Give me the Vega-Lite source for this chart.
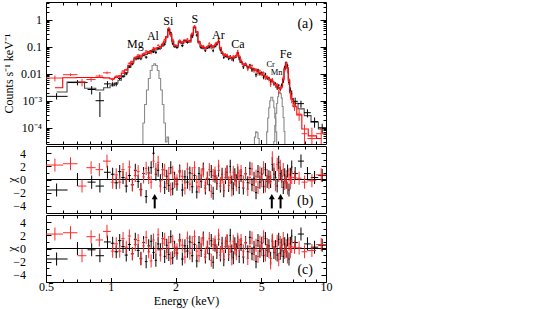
{
"$schema": "https://vega.github.io/schema/vega-lite/v6.json",
"padding": {"left": 1, "top": 1, "right": 5, "bottom": 1},
"spacing": 0,
"config": {
 "font": "Liberation Serif",
 "view": {"stroke": "black", "strokeWidth": 1},
 "axis": {"domain": false, "grid": false, "tickColor": "black", "tickWidth": 1, "labelColor": "black", "titleColor": "black", "labelFont": "Liberation Serif", "titleFont": "Liberation Serif", "labelFontSize": 12, "titleFontSize": 12, "titleFontWeight": "normal", "labelFlush": false, "labelOverlap": false},
 "text": {"font": "Liberation Serif", "color": "black"}
},
"datasets": {
 "spec": [
{"s":"k","e0":0.5,"e1":0.63,"e":0.56,"y":0.00145,"lo":0.0011,"hi":0.0019,"m":0.0021,"rb":-1.6,"rc":-1.6},
{"s":"k","e0":0.63,"e1":0.78,"e":0.7,"y":0.0047,"lo":0.0037,"hi":0.0058,"m":0.0049,"rb":0,"rc":0},
{"s":"k","e0":0.78,"e1":0.85,"e":0.815,"y":0.0026,"lo":0.0017,"hi":0.0035,"m":0.0029,"rb":-0.4,"rc":-0.2},
{"s":"k","e0":0.85,"e1":0.93,"e":0.89,"y":0.001,"lo":0.00025,"hi":0.0021,"m":0.0025,"rb":-1,"rc":-1.1},
{"s":"k","e0":0.93,"e1":1,"e":0.965,"y":0.0042,"lo":0.0031,"hi":0.0053,"m":0.003,"rb":1.1,"rc":1},
{"s":"k","e0":1,"e1":1.04,"e":1.02,"y":0.00412,"lo":0.00338,"hi":0.00486,"m":0.0036,"rb":0.8,"rc":0.8},
{"s":"k","e0":1.04,"e1":1.08,"e":1.06,"y":0.00414,"lo":0.00342,"hi":0.00486,"m":0.0045,"rb":-0.5,"rc":-0.5},
{"s":"k","e0":1.08,"e1":1.12,"e":1.1,"y":0.00666,"lo":0.00586,"hi":0.00746,"m":0.0057,"rb":1.2,"rc":1.2},
{"s":"k","e0":1.12,"e1":1.16,"e":1.14,"y":0.00808,"lo":0.00714,"hi":0.00902,"m":0.0078,"rb":0.3,"rc":0.3},
{"s":"k","e0":1.16,"e1":1.2,"e":1.18,"y":0.0099,"lo":0.0088,"hi":0.011,"m":0.011,"rb":-1,"rc":-1},
{"s":"k","e0":1.2,"e1":1.24,"e":1.22,"y":0.018,"lo":0.0163,"hi":0.0197,"m":0.017,"rb":0.6,"rc":0.6},
{"s":"k","e0":1.24,"e1":1.28,"e":1.26,"y":0.023,"lo":0.0205,"hi":0.0255,"m":0.025,"rb":-0.8,"rc":-0.8},
{"s":"k","e0":1.28,"e1":1.32,"e":1.3,"y":0.0376,"lo":0.0343,"hi":0.0409,"m":0.033,"rb":1.4,"rc":1.4},
{"s":"k","e0":1.32,"e1":1.36,"e":1.34,"y":0.0369,"lo":0.0331,"hi":0.0407,"m":0.038,"rb":-0.3,"rc":-0.3},
{"s":"k","e0":1.36,"e1":1.4,"e":1.38,"y":0.0357,"lo":0.0315,"hi":0.0399,"m":0.042,"rb":-1.5,"rc":-1.5},
{"s":"k","e0":1.4,"e1":1.44,"e":1.42,"y":0.0501,"lo":0.0455,"hi":0.0547,"m":0.046,"rb":0.9,"rc":0.9},
{"s":"k","e0":1.44,"e1":1.48,"e":1.46,"y":0.0408,"lo":0.0357,"hi":0.0459,"m":0.051,"rb":-2.6,"rc":-2},
{"s":"k","e0":1.48,"e1":1.52,"e":1.5,"y":0.0593,"lo":0.0536,"hi":0.065,"m":0.057,"rb":1,"rc":0.4},
{"s":"k","e0":1.52,"e1":1.56,"e":1.54,"y":0.0699,"lo":0.0636,"hi":0.0762,"m":0.063,"rb":1.8,"rc":1.1},
{"s":"k","e0":1.56,"e1":1.6,"e":1.58,"y":0.0649,"lo":0.058,"hi":0.0718,"m":0.069,"rb":4,"rc":-0.6},
{"s":"k","e0":1.6,"e1":1.64,"e":1.62,"y":0.0615,"lo":0.054,"hi":0.069,"m":0.075,"rb":0.8,"rc":-1.8},
{"s":"k","e0":1.64,"e1":1.68,"e":1.66,"y":0.0867,"lo":0.0786,"hi":0.0948,"m":0.081,"rb":1.4,"rc":0.7},
{"s":"k","e0":1.68,"e1":1.72,"e":1.7,"y":0.0872,"lo":0.0783,"hi":0.0961,"m":0.089,"rb":-0.2,"rc":-0.2},
{"s":"k","e0":1.72,"e1":1.76,"e":1.74,"y":0.121,"lo":0.11,"hi":0.131,"m":0.105,"rb":1.5,"rc":1.5},
{"s":"k","e0":1.76,"e1":1.8,"e":1.78,"y":0.123,"lo":0.109,"hi":0.137,"m":0.14,"rb":-1.2,"rc":-1.2},
{"s":"k","e0":1.8,"e1":1.84,"e":1.82,"y":0.231,"lo":0.209,"hi":0.253,"m":0.22,"rb":0.5,"rc":0.5},
{"s":"k","e0":1.84,"e1":1.88,"e":1.86,"y":0.41,"lo":0.365,"hi":0.455,"m":0.45,"rb":-0.9,"rc":-0.9},
{"s":"k","e0":1.88,"e1":1.92,"e":1.9,"y":0.33,"lo":0.302,"hi":0.358,"m":0.28,"rb":1.8,"rc":1.8},
{"s":"k","e0":1.92,"e1":1.96,"e":1.94,"y":0.129,"lo":0.114,"hi":0.144,"m":0.15,"rb":-1.4,"rc":-1.4},
{"s":"k","e0":1.96,"e1":2,"e":1.98,"y":0.102,"lo":0.092,"hi":0.112,"m":0.1,"rb":0.2,"rc":0.2},
{"s":"k","e0":2,"e1":2.06,"e":2.03,"y":0.093,"lo":0.083,"hi":0.103,"m":0.1,"rb":-0.7,"rc":-0.7},
{"s":"k","e0":2.06,"e1":2.12,"e":2.09,"y":0.158,"lo":0.144,"hi":0.172,"m":0.14,"rb":1.3,"rc":1.3},
{"s":"k","e0":2.12,"e1":2.18,"e":2.15,"y":0.109,"lo":0.096,"hi":0.122,"m":0.13,"rb":-1.6,"rc":-1.6},
{"s":"k","e0":2.18,"e1":2.24,"e":2.21,"y":0.166,"lo":0.15,"hi":0.182,"m":0.16,"rb":0.4,"rc":0.4},
{"s":"k","e0":2.24,"e1":2.3,"e":2.27,"y":0.144,"lo":0.129,"hi":0.159,"m":0.15,"rb":-0.4,"rc":-0.4},
{"s":"k","e0":2.3,"e1":2.36,"e":2.33,"y":0.165,"lo":0.15,"hi":0.18,"m":0.15,"rb":1,"rc":1},
{"s":"k","e0":2.36,"e1":2.42,"e":2.39,"y":0.231,"lo":0.205,"hi":0.257,"m":0.26,"rb":-1.1,"rc":-1.1},
{"s":"k","e0":2.42,"e1":2.48,"e":2.45,"y":0.53,"lo":0.48,"hi":0.58,"m":0.5,"rb":0.6,"rc":0.6},
{"s":"k","e0":2.48,"e1":2.54,"e":2.51,"y":0.267,"lo":0.234,"hi":0.3,"m":0.33,"rb":-1.9,"rc":-1.9},
{"s":"k","e0":2.54,"e1":2.6,"e":2.57,"y":0.153,"lo":0.139,"hi":0.167,"m":0.14,"rb":0.9,"rc":0.9},
{"s":"k","e0":2.6,"e1":2.66,"e":2.63,"y":0.092,"lo":0.0825,"hi":0.1015,"m":0.095,"rb":-0.3,"rc":-0.3},
{"s":"k","e0":2.66,"e1":2.72,"e":2.69,"y":0.0986,"lo":0.0901,"hi":0.1071,"m":0.085,"rb":1.6,"rc":1.6},
{"s":"k","e0":2.72,"e1":2.78,"e":2.75,"y":0.0713,"lo":0.0631,"hi":0.0795,"m":0.082,"rb":-1.3,"rc":-1.3},
{"s":"k","e0":2.78,"e1":2.84,"e":2.81,"y":0.0918,"lo":0.0828,"hi":0.1008,"m":0.09,"rb":0.2,"rc":0.2},
{"s":"k","e0":2.84,"e1":2.9,"e":2.87,"y":0.0966,"lo":0.0861,"hi":0.1071,"m":0.105,"rb":-0.8,"rc":-0.8},
{"s":"k","e0":2.9,"e1":2.96,"e":2.93,"y":0.112,"lo":0.102,"hi":0.122,"m":0.1,"rb":1.2,"rc":1.2},
{"s":"k","e0":2.96,"e1":3.02,"e":2.99,"y":0.0711,"lo":0.0621,"hi":0.0801,"m":0.09,"rb":-2.1,"rc":-2.1},
{"s":"k","e0":3.02,"e1":3.08,"e":3.05,"y":0.105,"lo":0.095,"hi":0.115,"m":0.1,"rb":0.5,"rc":0.5},
{"s":"k","e0":3.08,"e1":3.14,"e":3.11,"y":0.122,"lo":0.109,"hi":0.135,"m":0.13,"rb":-0.6,"rc":-0.6},
{"s":"k","e0":3.14,"e1":3.2,"e":3.17,"y":0.16,"lo":0.146,"hi":0.174,"m":0.14,"rb":1.4,"rc":1.4},
{"s":"k","e0":3.2,"e1":3.26,"e":3.23,"y":0.0765,"lo":0.068,"hi":0.085,"m":0.085,"rb":-1,"rc":-1},
{"s":"k","e0":3.26,"e1":3.32,"e":3.29,"y":0.0605,"lo":0.0549,"hi":0.0661,"m":0.056,"rb":0.8,"rc":0.8},
{"s":"k","e0":3.32,"e1":3.38,"e":3.35,"y":0.0398,"lo":0.035,"hi":0.0446,"m":0.048,"rb":-1.7,"rc":-1.7},
{"s":"k","e0":3.38,"e1":3.44,"e":3.41,"y":0.0453,"lo":0.0409,"hi":0.0497,"m":0.044,"rb":0.3,"rc":0.3},
{"s":"k","e0":3.44,"e1":3.5,"e":3.47,"y":0.0455,"lo":0.0414,"hi":0.0496,"m":0.041,"rb":1.1,"rc":1.1},
{"s":"k","e0":3.5,"e1":3.56,"e":3.53,"y":0.0355,"lo":0.0316,"hi":0.0394,"m":0.039,"rb":-0.9,"rc":-0.9},
{"s":"k","e0":3.56,"e1":3.62,"e":3.59,"y":0.0444,"lo":0.0407,"hi":0.0481,"m":0.037,"rb":2,"rc":2},
{"s":"k","e0":3.62,"e1":3.68,"e":3.65,"y":0.0346,"lo":0.031,"hi":0.0382,"m":0.036,"rb":-0.4,"rc":-0.4},
{"s":"k","e0":3.68,"e1":3.74,"e":3.71,"y":0.0318,"lo":0.0281,"hi":0.0355,"m":0.037,"rb":-1.4,"rc":-1.4},
{"s":"k","e0":3.74,"e1":3.8,"e":3.77,"y":0.0417,"lo":0.0378,"hi":0.0456,"m":0.039,"rb":0.7,"rc":0.7},
{"s":"k","e0":3.8,"e1":3.86,"e":3.83,"y":0.0431,"lo":0.0387,"hi":0.0475,"m":0.044,"rb":-0.2,"rc":-0.2},
{"s":"k","e0":3.86,"e1":3.92,"e":3.89,"y":0.0605,"lo":0.055,"hi":0.066,"m":0.055,"rb":1,"rc":1},
{"s":"k","e0":3.92,"e1":3.98,"e":3.95,"y":0.0352,"lo":0.0312,"hi":0.0392,"m":0.04,"rb":-1.2,"rc":-1.2},
{"s":"k","e0":3.98,"e1":4.08,"e":4.03,"y":0.0282,"lo":0.0245,"hi":0.0318,"m":0.026,"rb":0.6,"rc":0.6},
{"s":"k","e0":4.08,"e1":4.18,"e":4.13,"y":0.018,"lo":0.0149,"hi":0.0211,"m":0.022,"rb":-1.3,"rc":-1.3},
{"s":"k","e0":4.18,"e1":4.28,"e":4.23,"y":0.0225,"lo":0.0197,"hi":0.0253,"m":0.02,"rb":0.9,"rc":0.9},
{"s":"k","e0":4.28,"e1":4.38,"e":4.33,"y":0.0167,"lo":0.0142,"hi":0.0192,"m":0.018,"rb":-0.5,"rc":-0.5},
{"s":"k","e0":4.38,"e1":4.48,"e":4.43,"y":0.0208,"lo":0.0184,"hi":0.0232,"m":0.0168,"rb":1.7,"rc":1.7},
{"s":"k","e0":4.48,"e1":4.58,"e":4.53,"y":0.0138,"lo":0.0116,"hi":0.016,"m":0.0155,"rb":-0.8,"rc":-0.8},
{"s":"k","e0":4.58,"e1":4.68,"e":4.63,"y":0.0144,"lo":0.0124,"hi":0.0164,"m":0.014,"rb":0.2,"rc":0.2},
{"s":"k","e0":4.68,"e1":4.78,"e":4.73,"y":0.0092,"lo":0.0074,"hi":0.011,"m":0.0128,"rb":-2,"rc":-2},
{"s":"k","e0":4.78,"e1":4.88,"e":4.83,"y":0.0137,"lo":0.0121,"hi":0.0153,"m":0.0117,"rb":1.2,"rc":1.2},
{"s":"k","e0":4.88,"e1":4.98,"e":4.93,"y":0.01,"lo":0.0085,"hi":0.0115,"m":0.0106,"rb":-0.4,"rc":-0.4},
{"s":"k","e0":4.98,"e1":5.08,"e":5.03,"y":0.0108,"lo":0.0094,"hi":0.0122,"m":0.0097,"rb":0.8,"rc":0.8},
{"s":"k","e0":5.08,"e1":5.18,"e":5.13,"y":0.0074,"lo":0.0062,"hi":0.0086,"m":0.0088,"rb":-1.1,"rc":-1.1},
{"s":"k","e0":5.18,"e1":5.28,"e":5.23,"y":0.0097,"lo":0.0086,"hi":0.0108,"m":0.008,"rb":1.5,"rc":1.5},
{"s":"k","e0":5.28,"e1":5.38,"e":5.33,"y":0.0069,"lo":0.0059,"hi":0.0079,"m":0.0072,"rb":-0.3,"rc":-0.3},
{"s":"k","e0":5.38,"e1":5.48,"e":5.43,"y":0.0069,"lo":0.006,"hi":0.0078,"m":0.0065,"rb":0.4,"rc":0.4},
{"s":"k","e0":5.48,"e1":5.58,"e":5.53,"y":0.0046,"lo":0.0038,"hi":0.0054,"m":0.0058,"rb":-0.3,"rc":-1.5},
{"s":"k","e0":5.58,"e1":5.68,"e":5.63,"y":0.006,"lo":0.0053,"hi":0.0067,"m":0.0052,"rb":2.3,"rc":1.1},
{"s":"k","e0":5.68,"e1":5.78,"e":5.73,"y":0.0042,"lo":0.0036,"hi":0.0048,"m":0.0046,"rb":0.8,"rc":-0.6},
{"s":"k","e0":5.78,"e1":5.88,"e":5.83,"y":0.0042,"lo":0.0036,"hi":0.0048,"m":0.004,"rb":0.3,"rc":0.3},
{"s":"k","e0":5.88,"e1":5.98,"e":5.93,"y":0.003,"lo":0.0025,"hi":0.0035,"m":0.0035,"rb":-1,"rc":-1},
{"s":"k","e0":5.98,"e1":6.08,"e":6.03,"y":0.0037,"lo":0.0033,"hi":0.0041,"m":0.0031,"rb":2.6,"rc":1.4},
{"s":"k","e0":6.08,"e1":6.18,"e":6.13,"y":0.0027,"lo":0.0023,"hi":0.0031,"m":0.003,"rb":0.9,"rc":-0.7},
{"s":"k","e0":6.18,"e1":6.28,"e":6.23,"y":0.0039,"lo":0.0034,"hi":0.0044,"m":0.0036,"rb":0.5,"rc":0.5},
{"s":"k","e0":6.28,"e1":6.38,"e":6.33,"y":0.0054,"lo":0.0045,"hi":0.0063,"m":0.0065,"rb":-1.2,"rc":-1.2},
{"s":"k","e0":6.38,"e1":6.48,"e":6.43,"y":0.0176,"lo":0.0154,"hi":0.0198,"m":0.016,"rb":0.7,"rc":0.7},
{"s":"k","e0":6.48,"e1":6.58,"e":6.53,"y":0.0245,"lo":0.0209,"hi":0.0281,"m":0.026,"rb":-0.4,"rc":-0.4},
{"s":"k","e0":6.58,"e1":6.68,"e":6.63,"y":0.0201,"lo":0.0177,"hi":0.0225,"m":0.017,"rb":1.3,"rc":1.3},
{"s":"k","e0":6.68,"e1":6.78,"e":6.73,"y":0.0047,"lo":0.0039,"hi":0.0055,"m":0.006,"rb":-1.6,"rc":-1.6},
{"s":"k","e0":6.78,"e1":6.88,"e":6.83,"y":0.0025,"lo":0.0019,"hi":0.0031,"m":0.0022,"rb":0.8,"rc":0.8},
{"s":"k","e0":6.88,"e1":6.98,"e":6.93,"y":0.0018,"lo":0.0012,"hi":0.0024,"m":0.0012,"rb":1.9,"rc":1.9},
{"s":"k","e0":6.98,"e1":7.4,"e":7.19,"y":0.00095,"lo":0.0006,"hi":0.0013,"m":0.0008,"rb":0.9,"rc":0.9},
{"s":"k","e0":7.4,"e1":7.9,"e":7.65,"y":0.00078,"lo":0.00055,"hi":0.001,"m":0.0005,"rb":2.8,"rc":2.2},
{"s":"k","e0":7.9,"e1":8.5,"e":8.2,"y":0.00036,"lo":0.00024,"hi":0.00048,"m":0.00028,"rb":0.9,"rc":0.7},
{"s":"k","e0":8.5,"e1":9.2,"e":8.85,"y":0.00017,"lo":0.0001,"hi":0.00024,"m":0.00016,"rb":0.3,"rc":0.2},
{"s":"k","e0":9.2,"e1":10,"e":9.6,"y":0.0001,"lo":0.00006,"hi":0.00014,"m":0.00009,"rb":0.6,"rc":0.5},
{"s":"r","e0":0.5,"e1":0.6,"e":0.55,"y":0.0069,"lo":0.0052,"hi":0.0086,"m":0.003,"rb":2.2,"rc":2.2},
{"s":"r","e0":0.6,"e1":0.7,"e":0.65,"y":0.0092,"lo":0.0082,"hi":0.0102,"m":0.0071,"rb":2.4,"rc":2.4},
{"s":"r","e0":0.7,"e1":0.77,"e":0.735,"y":0.0049,"lo":0.0034,"hi":0.0064,"m":0.0072,"rb":-1,"rc":-1.1},
{"s":"r","e0":0.77,"e1":0.85,"e":0.81,"y":0.0061,"lo":0.005,"hi":0.0072,"m":0.0072,"rb":1.8,"rc":1.8},
{"s":"r","e0":0.85,"e1":0.92,"e":0.885,"y":0.0082,"lo":0.0071,"hi":0.0093,"m":0.0072,"rb":1.5,"rc":1.3},
{"s":"r","e0":0.92,"e1":1,"e":0.96,"y":0.0108,"lo":0.0095,"hi":0.0121,"m":0.007,"rb":2.8,"rc":2.6},
{"s":"r","e0":1,"e1":1.04,"e":1.02,"y":0.0061,"lo":0.0052,"hi":0.007,"m":0.0065,"rb":-0.4,"rc":-0.4},
{"s":"r","e0":1.04,"e1":1.08,"e":1.06,"y":0.0079,"lo":0.0068,"hi":0.009,"m":0.0072,"rb":0.7,"rc":0.7},
{"s":"r","e0":1.08,"e1":1.12,"e":1.1,"y":0.0078,"lo":0.0068,"hi":0.0088,"m":0.0083,"rb":-0.4,"rc":-0.4},
{"s":"r","e0":1.12,"e1":1.16,"e":1.14,"y":0.0124,"lo":0.0111,"hi":0.0137,"m":0.0105,"rb":1.5,"rc":1.5},
{"s":"r","e0":1.16,"e1":1.2,"e":1.18,"y":0.0141,"lo":0.0127,"hi":0.0155,"m":0.0138,"rb":0.2,"rc":0.2},
{"s":"r","e0":1.2,"e1":1.24,"e":1.22,"y":0.0243,"lo":0.0223,"hi":0.0263,"m":0.0204,"rb":1.9,"rc":1.9},
{"s":"r","e0":1.24,"e1":1.28,"e":1.26,"y":0.0265,"lo":0.0236,"hi":0.0294,"m":0.0288,"rb":-0.8,"rc":-0.8},
{"s":"r","e0":1.28,"e1":1.32,"e":1.3,"y":0.0403,"lo":0.0365,"hi":0.0441,"m":0.038,"rb":0.6,"rc":0.6},
{"s":"r","e0":1.32,"e1":1.36,"e":1.34,"y":0.049,"lo":0.0446,"hi":0.0534,"m":0.0437,"rb":1.2,"rc":1.2},
{"s":"r","e0":1.36,"e1":1.4,"e":1.38,"y":0.0406,"lo":0.0358,"hi":0.0454,"m":0.0483,"rb":-1.6,"rc":-1.6},
{"s":"r","e0":1.4,"e1":1.44,"e":1.42,"y":0.055,"lo":0.0497,"hi":0.0603,"m":0.0529,"rb":0.4,"rc":0.4},
{"s":"r","e0":1.44,"e1":1.48,"e":1.46,"y":0.0687,"lo":0.0628,"hi":0.0746,"m":0.0587,"rb":1.7,"rc":1.7},
{"s":"r","e0":1.48,"e1":1.52,"e":1.5,"y":0.0623,"lo":0.0557,"hi":0.0689,"m":0.0656,"rb":0.3,"rc":-0.5},
{"s":"r","e0":1.52,"e1":1.56,"e":1.54,"y":0.0587,"lo":0.0515,"hi":0.066,"m":0.0725,"rb":-0.4,"rc":-1.9},
{"s":"r","e0":1.56,"e1":1.6,"e":1.58,"y":0.0897,"lo":0.0818,"hi":0.0976,"m":0.0794,"rb":2.8,"rc":1.3},
{"s":"r","e0":1.6,"e1":1.64,"e":1.62,"y":0.0863,"lo":0.0777,"hi":0.0949,"m":0.0863,"rb":1.5,"rc":0},
{"s":"r","e0":1.64,"e1":1.68,"e":1.66,"y":0.1128,"lo":0.1035,"hi":0.1221,"m":0.0932,"rb":2.6,"rc":2.1},
{"s":"r","e0":1.68,"e1":1.72,"e":1.7,"y":0.0922,"lo":0.082,"hi":0.1024,"m":0.1024,"rb":-1,"rc":-1},
{"s":"r","e0":1.72,"e1":1.76,"e":1.74,"y":0.131,"lo":0.119,"hi":0.143,"m":0.121,"rb":0.8,"rc":0.8},
{"s":"r","e0":1.76,"e1":1.8,"e":1.78,"y":0.184,"lo":0.168,"hi":0.2,"m":0.161,"rb":1.4,"rc":1.4},
{"s":"r","e0":1.8,"e1":1.84,"e":1.82,"y":0.221,"lo":0.198,"hi":0.244,"m":0.235,"rb":-0.6,"rc":-0.6},
{"s":"r","e0":1.84,"e1":1.88,"e":1.86,"y":0.49,"lo":0.445,"hi":0.535,"m":0.45,"rb":0.9,"rc":0.9},
{"s":"r","e0":1.88,"e1":1.92,"e":1.9,"y":0.255,"lo":0.225,"hi":0.285,"m":0.3,"rb":-1.5,"rc":-1.5},
{"s":"r","e0":1.92,"e1":1.96,"e":1.94,"y":0.183,"lo":0.167,"hi":0.2,"m":0.165,"rb":1.1,"rc":1.1},
{"s":"r","e0":1.96,"e1":2,"e":1.98,"y":0.112,"lo":0.1,"hi":0.124,"m":0.115,"rb":-0.3,"rc":-0.3},
{"s":"r","e0":2,"e1":2.06,"e":2.03,"y":0.108,"lo":0.097,"hi":0.119,"m":0.11,"rb":-0.2,"rc":-0.2},
{"s":"r","e0":2.06,"e1":2.12,"e":2.09,"y":0.171,"lo":0.156,"hi":0.186,"m":0.154,"rb":1.1,"rc":1.1},
{"s":"r","e0":2.12,"e1":2.18,"e":2.15,"y":0.15,"lo":0.136,"hi":0.164,"m":0.143,"rb":0.5,"rc":0.5},
{"s":"r","e0":2.18,"e1":2.24,"e":2.21,"y":0.153,"lo":0.135,"hi":0.171,"m":0.176,"rb":-1.3,"rc":-1.3},
{"s":"r","e0":2.24,"e1":2.3,"e":2.27,"y":0.191,"lo":0.175,"hi":0.207,"m":0.165,"rb":1.6,"rc":1.6},
{"s":"r","e0":2.3,"e1":2.36,"e":2.33,"y":0.153,"lo":0.137,"hi":0.169,"m":0.165,"rb":-0.7,"rc":-0.7},
{"s":"r","e0":2.36,"e1":2.42,"e":2.39,"y":0.312,"lo":0.283,"hi":0.341,"m":0.286,"rb":0.9,"rc":0.9},
{"s":"r","e0":2.42,"e1":2.48,"e":2.45,"y":0.58,"lo":0.53,"hi":0.63,"m":0.53,"rb":1.8,"rc":1.8},
{"s":"r","e0":2.48,"e1":2.54,"e":2.51,"y":0.348,"lo":0.312,"hi":0.384,"m":0.363,"rb":-0.4,"rc":-0.4},
{"s":"r","e0":2.54,"e1":2.6,"e":2.57,"y":0.137,"lo":0.122,"hi":0.152,"m":0.154,"rb":-1.1,"rc":-1.1},
{"s":"r","e0":2.6,"e1":2.66,"e":2.63,"y":0.112,"lo":0.102,"hi":0.122,"m":0.105,"rb":0.7,"rc":0.7},
{"s":"r","e0":2.66,"e1":2.72,"e":2.69,"y":0.106,"lo":0.097,"hi":0.115,"m":0.094,"rb":1.3,"rc":1.3},
{"s":"r","e0":2.72,"e1":2.78,"e":2.75,"y":0.082,"lo":0.073,"hi":0.091,"m":0.09,"rb":-0.9,"rc":-0.9},
{"s":"r","e0":2.78,"e1":2.84,"e":2.81,"y":0.101,"lo":0.091,"hi":0.111,"m":0.099,"rb":0.2,"rc":0.2},
{"s":"r","e0":2.84,"e1":2.9,"e":2.87,"y":0.133,"lo":0.121,"hi":0.145,"m":0.116,"rb":1.5,"rc":1.5},
{"s":"r","e0":2.9,"e1":2.96,"e":2.93,"y":0.09,"lo":0.079,"hi":0.101,"m":0.11,"rb":-1.8,"rc":-1.8},
{"s":"r","e0":2.96,"e1":3.02,"e":2.99,"y":0.105,"lo":0.095,"hi":0.115,"m":0.099,"rb":0.6,"rc":0.6},
{"s":"r","e0":3.02,"e1":3.08,"e":3.05,"y":0.121,"lo":0.11,"hi":0.132,"m":0.11,"rb":1,"rc":1},
{"s":"r","e0":3.08,"e1":3.14,"e":3.11,"y":0.139,"lo":0.125,"hi":0.153,"m":0.143,"rb":-0.3,"rc":-0.3},
{"s":"r","e0":3.14,"e1":3.2,"e":3.17,"y":0.185,"lo":0.17,"hi":0.2,"m":0.154,"rb":2,"rc":2},
{"s":"r","e0":3.2,"e1":3.26,"e":3.23,"y":0.088,"lo":0.079,"hi":0.097,"m":0.094,"rb":-0.6,"rc":-0.6},
{"s":"r","e0":3.26,"e1":3.32,"e":3.29,"y":0.064,"lo":0.058,"hi":0.07,"m":0.062,"rb":0.4,"rc":0.4},
{"s":"r","e0":3.32,"e1":3.38,"e":3.35,"y":0.047,"lo":0.042,"hi":0.052,"m":0.053,"rb":-1.2,"rc":-1.2},
{"s":"r","e0":3.38,"e1":3.44,"e":3.41,"y":0.052,"lo":0.047,"hi":0.057,"m":0.048,"rb":0.8,"rc":0.8},
{"s":"r","e0":3.44,"e1":3.5,"e":3.47,"y":0.05,"lo":0.046,"hi":0.055,"m":0.045,"rb":1.2,"rc":1.2},
{"s":"r","e0":3.5,"e1":3.56,"e":3.53,"y":0.041,"lo":0.037,"hi":0.045,"m":0.043,"rb":-0.5,"rc":-0.5},
{"s":"r","e0":3.56,"e1":3.62,"e":3.59,"y":0.042,"lo":0.038,"hi":0.046,"m":0.041,"rb":0.3,"rc":0.3},
{"s":"r","e0":3.62,"e1":3.68,"e":3.65,"y":0.034,"lo":0.03,"hi":0.038,"m":0.04,"rb":-1.6,"rc":-1.6},
{"s":"r","e0":3.68,"e1":3.74,"e":3.71,"y":0.045,"lo":0.041,"hi":0.049,"m":0.041,"rb":1.1,"rc":1.1},
{"s":"r","e0":3.74,"e1":3.8,"e":3.77,"y":0.043,"lo":0.039,"hi":0.047,"m":0.043,"rb":0.1,"rc":0.1},
{"s":"r","e0":3.8,"e1":3.86,"e":3.83,"y":0.044,"lo":0.039,"hi":0.049,"m":0.048,"rb":-0.8,"rc":-0.8},
{"s":"r","e0":3.86,"e1":3.92,"e":3.89,"y":0.07,"lo":0.064,"hi":0.076,"m":0.061,"rb":1.4,"rc":1.4},
{"s":"r","e0":3.92,"e1":3.98,"e":3.95,"y":0.046,"lo":0.042,"hi":0.05,"m":0.044,"rb":0.5,"rc":0.5},
{"s":"r","e0":3.98,"e1":4.08,"e":4.03,"y":0.0319,"lo":0.0281,"hi":0.0357,"m":0.0273,"rb":1.2,"rc":1.2},
{"s":"r","e0":4.08,"e1":4.18,"e":4.13,"y":0.0218,"lo":0.0186,"hi":0.025,"m":0.0231,"rb":-0.4,"rc":-0.4},
{"s":"r","e0":4.18,"e1":4.28,"e":4.23,"y":0.0234,"lo":0.0205,"hi":0.0263,"m":0.021,"rb":0.8,"rc":0.8},
{"s":"r","e0":4.28,"e1":4.38,"e":4.33,"y":0.015,"lo":0.0124,"hi":0.0176,"m":0.0189,"rb":-1.5,"rc":-1.5},
{"s":"r","e0":4.38,"e1":4.48,"e":4.43,"y":0.0183,"lo":0.0158,"hi":0.0208,"m":0.0176,"rb":0.3,"rc":0.3},
{"s":"r","e0":4.48,"e1":4.58,"e":4.53,"y":0.0199,"lo":0.0176,"hi":0.0222,"m":0.0163,"rb":1.6,"rc":1.6},
{"s":"r","e0":4.58,"e1":4.68,"e":4.63,"y":0.0128,"lo":0.0107,"hi":0.0149,"m":0.0147,"rb":-0.9,"rc":-0.9},
{"s":"r","e0":4.68,"e1":4.78,"e":4.73,"y":0.0143,"lo":0.0124,"hi":0.0162,"m":0.0134,"rb":0.5,"rc":0.5},
{"s":"r","e0":4.78,"e1":4.88,"e":4.83,"y":0.0102,"lo":0.0085,"hi":0.0119,"m":0.0123,"rb":-1.2,"rc":-1.2},
{"s":"r","e0":4.88,"e1":4.98,"e":4.93,"y":0.0127,"lo":0.0111,"hi":0.0143,"m":0.0111,"rb":1,"rc":1},
{"s":"r","e0":4.98,"e1":5.08,"e":5.03,"y":0.0094,"lo":0.008,"hi":0.0108,"m":0.0097,"rb":-0.2,"rc":-0.2},
{"s":"r","e0":5.08,"e1":5.18,"e":5.13,"y":0.011,"lo":0.0098,"hi":0.0122,"m":0.0088,"rb":1.8,"rc":1.8},
{"s":"r","e0":5.18,"e1":5.28,"e":5.23,"y":0.0069,"lo":0.0058,"hi":0.008,"m":0.008,"rb":-1,"rc":-1},
{"s":"r","e0":5.28,"e1":5.38,"e":5.33,"y":0.0078,"lo":0.0068,"hi":0.0088,"m":0.0072,"rb":0.6,"rc":0.6},
{"s":"r","e0":5.38,"e1":5.48,"e":5.43,"y":0.006,"lo":0.0051,"hi":0.0069,"m":0.0065,"rb":-0.5,"rc":-0.5},
{"s":"r","e0":5.48,"e1":5.58,"e":5.53,"y":0.004,"lo":0.0032,"hi":0.0048,"m":0.0058,"rb":0.3,"rc":-2.2},
{"s":"r","e0":5.58,"e1":5.68,"e":5.63,"y":0.0061,"lo":0.0054,"hi":0.0068,"m":0.0052,"rb":3.3,"rc":1.3},
{"s":"r","e0":5.68,"e1":5.78,"e":5.73,"y":0.0047,"lo":0.004,"hi":0.0054,"m":0.0046,"rb":1.5,"rc":0.2},
{"s":"r","e0":5.78,"e1":5.88,"e":5.83,"y":0.0036,"lo":0.003,"hi":0.0042,"m":0.004,"rb":-0.8,"rc":-0.8},
{"s":"r","e0":5.88,"e1":5.98,"e":5.93,"y":0.004,"lo":0.0035,"hi":0.0045,"m":0.0035,"rb":2.3,"rc":1.1},
{"s":"r","e0":5.98,"e1":6.08,"e":6.03,"y":0.0021,"lo":0.0017,"hi":0.0025,"m":0.0028,"rb":0.6,"rc":-1.7},
{"s":"r","e0":6.08,"e1":6.18,"e":6.13,"y":0.003,"lo":0.0026,"hi":0.0034,"m":0.0027,"rb":2,"rc":0.9},
{"s":"r","e0":6.18,"e1":6.28,"e":6.23,"y":0.0031,"lo":0.0027,"hi":0.0035,"m":0.0032,"rb":-0.3,"rc":-0.3},
{"s":"r","e0":6.28,"e1":6.38,"e":6.33,"y":0.0071,"lo":0.0063,"hi":0.0079,"m":0.0059,"rb":1.5,"rc":1.5},
{"s":"r","e0":6.38,"e1":6.48,"e":6.43,"y":0.0132,"lo":0.0112,"hi":0.0152,"m":0.0144,"rb":-0.6,"rc":-0.6},
{"s":"r","e0":6.48,"e1":6.58,"e":6.53,"y":0.0247,"lo":0.0214,"hi":0.028,"m":0.0234,"rb":0.4,"rc":0.4},
{"s":"r","e0":6.58,"e1":6.68,"e":6.63,"y":0.0125,"lo":0.0104,"hi":0.0146,"m":0.0153,"rb":-1.3,"rc":-1.3},
{"s":"r","e0":6.68,"e1":6.78,"e":6.73,"y":0.006,"lo":0.0051,"hi":0.0069,"m":0.0054,"rb":0.7,"rc":0.7},
{"s":"r","e0":6.78,"e1":6.88,"e":6.83,"y":0.0018,"lo":0.0013,"hi":0.0023,"m":0.002,"rb":-0.5,"rc":-0.5},
{"s":"r","e0":6.88,"e1":6.98,"e":6.93,"y":0.0012,"lo":0.0008,"hi":0.0016,"m":0.0011,"rb":0.3,"rc":0.3},
{"s":"r","e0":6.98,"e1":7.3,"e":7.14,"y":0.00065,"lo":0.00042,"hi":0.00088,"m":0.0006,"rb":0.3,"rc":0.2},
{"s":"r","e0":7.3,"e1":7.7,"e":7.5,"y":0.00032,"lo":0.00018,"hi":0.00046,"m":0.0003,"rb":0.2,"rc":0.1},
{"s":"r","e0":7.7,"e1":8.2,"e":7.95,"y":0.00006,"lo":0.000005,"hi":0.00013,"m":0.00009,"rb":-0.4,"rc":-0.5},
{"s":"r","e0":8.2,"e1":9,"e":8.6,"y":0.00004,"lo":0.000005,"hi":0.0001,"m":0.00005,"rb":-0.2,"rc":-0.3},
{"s":"r","e0":9,"e1":10,"e":9.5,"y":0.00006,"lo":0.00002,"hi":0.0001,"m":0.00004,"rb":0.7,"rc":0.6}
 ],
 "gl": [
{"g":"a","e":1.4,"v":0.000001},{"g":"a","e":1.42,"v":0.00015},{"g":"a","e":1.45,"v":0.00072},{"g":"a","e":1.48,"v":0.0025},{"g":"a","e":1.51,"v":0.0066},{"g":"a","e":1.54,"v":0.0132},{"g":"a","e":1.57,"v":0.02},{"g":"a","e":1.6,"v":0.023},{"g":"a","e":1.63,"v":0.02},{"g":"a","e":1.66,"v":0.0132},{"g":"a","e":1.69,"v":0.0066},{"g":"a","e":1.72,"v":0.0025},{"g":"a","e":1.75,"v":0.00072},{"g":"a","e":1.78,"v":0.00015},{"g":"a","e":1.81,"v":0.00003},{"g":"a","e":1.84,"v":0.000045},{"g":"a","e":1.87,"v":0.00002},{"g":"a","e":1.9,"v":0.000001},
{"g":"b","e":4.55,"v":0.000001},{"g":"b","e":4.62,"v":0.00002},{"g":"b","e":4.68,"v":0.000045},{"g":"b","e":4.74,"v":0.00007},{"g":"b","e":4.8,"v":0.000065},{"g":"b","e":4.86,"v":0.00004},{"g":"b","e":4.92,"v":0.000015},{"g":"b","e":4.98,"v":0.000001},
{"g":"c","e":5.2,"v":0.000001},{"g":"c","e":5.27,"v":0.000015},{"g":"c","e":5.33,"v":0.00007},{"g":"c","e":5.39,"v":0.00023},{"g":"c","e":5.45,"v":0.00055},{"g":"c","e":5.51,"v":0.001},{"g":"c","e":5.57,"v":0.00135},{"g":"c","e":5.63,"v":0.00135},{"g":"c","e":5.69,"v":0.001},{"g":"c","e":5.75,"v":0.00055},{"g":"c","e":5.81,"v":0.00023},{"g":"c","e":5.87,"v":0.00007},{"g":"c","e":5.93,"v":0.000015},{"g":"c","e":6,"v":0.000001},
{"g":"d","e":5.69,"v":0.000001},{"g":"d","e":5.75,"v":0.000031},{"g":"d","e":5.81,"v":0.00012},{"g":"d","e":5.87,"v":0.00034},{"g":"d","e":5.93,"v":0.00079},{"g":"d","e":5.99,"v":0.0014},{"g":"d","e":6.05,"v":0.00195},{"g":"d","e":6.11,"v":0.0021},{"g":"d","e":6.17,"v":0.0018},{"g":"d","e":6.23,"v":0.00125},{"g":"d","e":6.29,"v":0.00061},{"g":"d","e":6.35,"v":0.00024},{"g":"d","e":6.41,"v":0.000073},{"g":"d","e":6.47,"v":0.000018},{"g":"d","e":6.53,"v":0.000001}
 ],
 "lab": [
{"t":"Mg","e":1.3,"v":0.125},{"t":"Al","e":1.57,"v":0.24},{"t":"Si","e":1.85,"v":0.89},{"t":"S","e":2.46,"v":1.08},{"t":"Ar","e":3.16,"v":0.26},{"t":"Ca","e":3.9,"v":0.128},{"t":"Fe","e":6.5,"v":0.055}
 ],
 "labs": [
{"t":"Cr","e":5.53,"v":0.023},{"t":"Mn","e":5.9,"v":0.0114}
 ],
 "arr": [
{"e":1.6,"lo":-4.4,"hi":-2.6},{"e":5.6,"lo":-4.4,"hi":-2.6},{"e":6.15,"lo":-4.4,"hi":-2.6}
 ]
},
"vconcat": [
{
 "width": 280, "height": 142,
 "resolve": {"axis": {"x": "independent", "y": "independent"}},
 "layer": [
  {"data": {"name": "gl"}, "mark": {"type": "line", "interpolate": "step", "color": "#8a8a8a", "strokeWidth": 1.1, "clip": true},
   "encoding": {"x": {"field": "e", "type": "quantitative", "scale": {"type": "log", "domain": [0.5, 10], "nice": false}, "axis": null},
    "y": {"field": "v", "type": "quantitative", "scale": {"type": "log", "domain": [0.000025, 4.5], "nice": false}, "axis": null},
    "detail": {"field": "g"}}},
  {"data": {"name": "spec"}, "transform": [{"filter": "datum.s=='k'"}], "mark": {"type": "line", "interpolate": "step", "color": "#4a4a4a", "strokeWidth": 1.1, "clip": true},
   "encoding": {"x": {"field": "e", "type": "quantitative", "axis": null}, "y": {"field": "m", "type": "quantitative", "axis": null}}},
  {"data": {"name": "spec"}, "transform": [{"filter": "datum.s=='k'"}], "mark": {"type": "rule", "color": "black", "strokeWidth": 1, "clip": true},
   "encoding": {"x": {"field": "e0", "type": "quantitative",
      "axis": {"orient": "bottom", "values": [0.6,0.7,0.8,0.9,1,2,3,4,5,6,7,8,9], "labels": false, "title": null,
        "tickSize": {"condition": {"test": "datum.value==1||datum.value==2||datum.value==5", "value": -4.5}, "value": -3}}},
    "x2": {"field": "e1"},
    "y": {"field": "y", "type": "quantitative",
      "axis": {"orient": "left", "values": [0.00003,0.00004,0.00005,0.00006,0.00007,0.00008,0.00009,0.0001,0.0002,0.0003,0.0004,0.0005,0.0006,0.0007,0.0008,0.0009,0.001,0.002,0.003,0.004,0.005,0.006,0.007,0.008,0.009,0.01,0.02,0.03,0.04,0.05,0.06,0.07,0.08,0.09,0.1,0.2,0.3,0.4,0.5,0.6,0.7,0.8,0.9,1,2,3,4],
        "labelExpr": "datum.value==1?'1':datum.value==0.1?'0.1':datum.value==0.01?'0.01':datum.value==0.001?'10⁻³':datum.value==0.0001?'10⁻⁴':''",
        "labelFontSize": {"condition": {"test": "datum.value==1||datum.value==0.1||datum.value==0.01||datum.value==0.001||datum.value==0.0001", "value": 12}, "value": 0},
        "labelPadding": 10.5,
        "tickSize": {"condition": {"test": "datum.value==1||datum.value==0.1||datum.value==0.01||datum.value==0.001||datum.value==0.0001", "value": -6}, "value": -3},
        "title": "Counts s⁻¹ keV⁻¹", "titleX": -37.7, "titleY": 71, "titleAngle": -90, "titleBaseline": "middle", "titleAlign": "center"}}}},
  {"data": {"name": "spec"}, "transform": [{"filter": "datum.s=='k'"}], "mark": {"type": "rule", "color": "black", "strokeWidth": 1, "clip": true},
   "encoding": {"x": {"field": "e", "type": "quantitative",
      "axis": {"orient": "top", "values": [0.6,0.7,0.8,0.9,1,2,3,4,5,6,7,8,9], "labels": false, "title": null,
        "tickSize": {"condition": {"test": "datum.value==1||datum.value==2||datum.value==5", "value": -4.5}, "value": -3}}},
    "y": {"field": "lo", "type": "quantitative",
      "axis": {"orient": "right", "values": [0.00003,0.00004,0.00005,0.00006,0.00007,0.00008,0.00009,0.0001,0.0002,0.0003,0.0004,0.0005,0.0006,0.0007,0.0008,0.0009,0.001,0.002,0.003,0.004,0.005,0.006,0.007,0.008,0.009,0.01,0.02,0.03,0.04,0.05,0.06,0.07,0.08,0.09,0.1,0.2,0.3,0.4,0.5,0.6,0.7,0.8,0.9,1,2,3,4],
        "labels": false, "title": null,
        "tickSize": {"condition": {"test": "datum.value==1||datum.value==0.1||datum.value==0.01||datum.value==0.001||datum.value==0.0001", "value": -6}, "value": -3}}},
    "y2": {"field": "hi"}}},
  {"data": {"name": "spec"}, "transform": [{"filter": "datum.s=='r'"}], "mark": {"type": "line", "interpolate": "step", "color": "#ff0000", "strokeWidth": 1.1, "clip": true},
   "encoding": {"x": {"field": "e", "type": "quantitative", "axis": null}, "y": {"field": "m", "type": "quantitative", "axis": null}}},
  {"data": {"name": "spec"}, "transform": [{"filter": "datum.s=='r'"}], "mark": {"type": "rule", "color": "#ff2a2a", "strokeWidth": 1, "clip": true},
   "encoding": {"x": {"field": "e0", "type": "quantitative", "axis": null}, "x2": {"field": "e1"}, "y": {"field": "y", "type": "quantitative", "axis": null}}},
  {"data": {"name": "spec"}, "transform": [{"filter": "datum.s=='r'"}], "mark": {"type": "rule", "color": "#ff2a2a", "strokeWidth": 1, "clip": true},
   "encoding": {"x": {"field": "e", "type": "quantitative", "axis": null}, "y": {"field": "lo", "type": "quantitative", "axis": null}, "y2": {"field": "hi"}}},
  {"data": {"name": "lab"}, "mark": {"type": "text", "fontSize": 12, "align": "center", "baseline": "middle", "color": "black"},
   "encoding": {"x": {"field": "e", "type": "quantitative", "axis": null}, "y": {"field": "v", "type": "quantitative", "axis": null}, "text": {"field": "t"}}},
  {"data": {"name": "labs"}, "mark": {"type": "text", "fontSize": 8.5, "align": "center", "baseline": "middle", "color": "black"},
   "encoding": {"x": {"field": "e", "type": "quantitative", "axis": null}, "y": {"field": "v", "type": "quantitative", "axis": null}, "text": {"field": "t"}}},
  {"data": {"values": [{"t": "(a)", "e": 8.0, "v": 0.7}]}, "mark": {"type": "text", "fontSize": 14, "align": "center", "baseline": "middle", "color": "black"},
   "encoding": {"x": {"field": "e", "type": "quantitative", "axis": null}, "y": {"field": "v", "type": "quantitative", "axis": null}, "text": {"field": "t"}}}
 ]
},
{
 "width": 280, "height": 67,
 "resolve": {"axis": {"x": "independent", "y": "independent"}},
 "layer": [
  {"data": {"values": [{}]}, "mark": {"type": "rule", "color": "black", "strokeWidth": 1},
   "encoding": {"y": {"datum": 0, "type": "quantitative", "scale": {"domain": [-5.1, 5.1], "nice": false, "zero": false}, "axis": null}}},
  {"data": {"name": "spec"}, "transform": [{"filter": "datum.s=='k'"}], "mark": {"type": "rule", "color": "black", "strokeWidth": 1, "clip": true},
   "encoding": {"x": {"field": "e0", "type": "quantitative", "scale": {"type": "log", "domain": [0.5, 10], "nice": false},
      "axis": {"orient": "bottom", "values": [0.6,0.7,0.8,0.9,1,2,3,4,5,6,7,8,9], "labels": false, "title": null,
        "tickSize": {"condition": {"test": "datum.value==1||datum.value==2||datum.value==5", "value": -4.5}, "value": -3}}},
    "x2": {"field": "e1"},
    "y": {"field": "rb", "type": "quantitative",
      "axis": {"orient": "left", "values": [-4,-3,-2,-1,0,1,2,3,4],
        "labelExpr": "datum.value==4?'4':datum.value==2?'2':datum.value==0?'0':datum.value==-2?'−2':datum.value==-4?'−4':''",
        "labelFontSize": {"condition": {"test": "datum.value%2==0", "value": 12}, "value": 0},
        "labelPadding": 25.5,
        "tickSize": {"condition": {"test": "datum.value%2==0", "value": -5}, "value": -3},
        "title": "χ", "titleX": -35, "titleY": 33.5, "titleAngle": -90, "titleBaseline": "middle", "titleAlign": "center"}}}},
  {"data": {"name": "spec"}, "transform": [{"filter": "datum.s=='k'"}], "mark": {"type": "tick", "orient": "vertical", "size": 13.1, "thickness": 1, "color": "black", "opacity": 1, "clip": true},
   "encoding": {"x": {"field": "e", "type": "quantitative",
      "axis": {"orient": "top", "values": [0.6,0.7,0.8,0.9,1,2,3,4,5,6,7,8,9], "labels": false, "title": null,
        "tickSize": {"condition": {"test": "datum.value==1||datum.value==2||datum.value==5", "value": -4.5}, "value": -3}}},
    "y": {"field": "rb", "type": "quantitative",
      "axis": {"orient": "right", "values": [-4,-3,-2,-1,0,1,2,3,4], "labels": false, "title": null,
        "tickSize": {"condition": {"test": "datum.value%2==0", "value": -5}, "value": -3}}}}},
  {"data": {"name": "spec"}, "transform": [{"filter": "datum.s=='r'"}], "mark": {"type": "rule", "color": "#ff2a2a", "strokeWidth": 1, "clip": true},
   "encoding": {"x": {"field": "e0", "type": "quantitative", "axis": null}, "x2": {"field": "e1"}, "y": {"field": "rb", "type": "quantitative", "axis": null}}},
  {"data": {"name": "spec"}, "transform": [{"filter": "datum.s=='r'"}], "mark": {"type": "tick", "orient": "vertical", "size": 13.1, "thickness": 1, "color": "#ff2a2a", "opacity": 1, "clip": true},
   "encoding": {"x": {"field": "e", "type": "quantitative", "axis": null}, "y": {"field": "rb", "type": "quantitative", "axis": null}}},
  {"data": {"name": "arr"}, "mark": {"type": "rule", "color": "black", "strokeWidth": 2},
   "encoding": {"x": {"field": "e", "type": "quantitative", "axis": null}, "y": {"field": "lo", "type": "quantitative", "axis": null}, "y2": {"field": "hi"}}},
  {"data": {"name": "arr"}, "mark": {"type": "point", "shape": "triangle-up", "size": 35, "filled": true, "color": "black", "opacity": 1},
   "encoding": {"x": {"field": "e", "type": "quantitative", "axis": null}, "y": {"field": "hi", "type": "quantitative", "axis": null}}},
  {"data": {"values": [{"t": "(b)", "e": 8.0, "v": -3.25}]}, "mark": {"type": "text", "fontSize": 14, "align": "center", "baseline": "middle", "color": "black"},
   "encoding": {"x": {"field": "e", "type": "quantitative", "axis": null}, "y": {"field": "v", "type": "quantitative", "axis": null}, "text": {"field": "t"}}}
 ]
},
{
 "width": 280, "height": 67,
 "resolve": {"axis": {"x": "independent", "y": "independent"}},
 "layer": [
  {"data": {"values": [{}]}, "mark": {"type": "rule", "color": "black", "strokeWidth": 1},
   "encoding": {"y": {"datum": 0, "type": "quantitative", "scale": {"domain": [-5.1, 5.1], "nice": false, "zero": false}, "axis": null}}},
  {"data": {"name": "spec"}, "transform": [{"filter": "datum.s=='k'"}], "mark": {"type": "rule", "color": "black", "strokeWidth": 1, "clip": true},
   "encoding": {"x": {"field": "e0", "type": "quantitative", "scale": {"type": "log", "domain": [0.5, 10], "nice": false},
      "axis": {"orient": "bottom", "values": [0.5,0.6,0.7,0.8,0.9,1,2,3,4,5,6,7,8,9,10],
        "labelExpr": "datum.value==0.5?'0.5':datum.value==1?'1':datum.value==2?'2':datum.value==5?'5':datum.value==10?'10':''",
        "labelFontSize": {"condition": {"test": "datum.value==0.5||datum.value==1||datum.value==2||datum.value==5||datum.value==10", "value": 12}, "value": 0},
        "labelPadding": 4,
        "tickSize": {"condition": {"test": "datum.value==0.5||datum.value==1||datum.value==2||datum.value==5||datum.value==10", "value": -4.5}, "value": -3},
        "title": "Energy (keV)", "titlePadding": 2.5}},
    "x2": {"field": "e1"},
    "y": {"field": "rc", "type": "quantitative",
      "axis": {"orient": "left", "values": [-4,-3,-2,-1,0,1,2,3,4],
        "labelExpr": "datum.value==4?'4':datum.value==2?'2':datum.value==0?'0':datum.value==-2?'−2':datum.value==-4?'−4':''",
        "labelFontSize": {"condition": {"test": "datum.value%2==0", "value": 12}, "value": 0},
        "labelPadding": 25.5,
        "tickSize": {"condition": {"test": "datum.value%2==0", "value": -5}, "value": -3},
        "title": "χ", "titleX": -35, "titleY": 33.5, "titleAngle": -90, "titleBaseline": "middle", "titleAlign": "center"}}}},
  {"data": {"name": "spec"}, "transform": [{"filter": "datum.s=='k'"}], "mark": {"type": "tick", "orient": "vertical", "size": 13.1, "thickness": 1, "color": "black", "opacity": 1, "clip": true},
   "encoding": {"x": {"field": "e", "type": "quantitative",
      "axis": {"orient": "top", "values": [0.6,0.7,0.8,0.9,1,2,3,4,5,6,7,8,9], "labels": false, "title": null,
        "tickSize": {"condition": {"test": "datum.value==1||datum.value==2||datum.value==5", "value": -4.5}, "value": -3}}},
    "y": {"field": "rc", "type": "quantitative",
      "axis": {"orient": "right", "values": [-4,-3,-2,-1,0,1,2,3,4], "labels": false, "title": null,
        "tickSize": {"condition": {"test": "datum.value%2==0", "value": -5}, "value": -3}}}}},
  {"data": {"name": "spec"}, "transform": [{"filter": "datum.s=='r'"}], "mark": {"type": "rule", "color": "#ff2a2a", "strokeWidth": 1, "clip": true},
   "encoding": {"x": {"field": "e0", "type": "quantitative", "axis": null}, "x2": {"field": "e1"}, "y": {"field": "rc", "type": "quantitative", "axis": null}}},
  {"data": {"name": "spec"}, "transform": [{"filter": "datum.s=='r'"}], "mark": {"type": "tick", "orient": "vertical", "size": 13.1, "thickness": 1, "color": "#ff2a2a", "opacity": 1, "clip": true},
   "encoding": {"x": {"field": "e", "type": "quantitative", "axis": null}, "y": {"field": "rc", "type": "quantitative", "axis": null}}},
  {"data": {"values": [{"t": "(c)", "e": 8.0, "v": -3.25}]}, "mark": {"type": "text", "fontSize": 14, "align": "center", "baseline": "middle", "color": "black"},
   "encoding": {"x": {"field": "e", "type": "quantitative", "axis": null}, "y": {"field": "v", "type": "quantitative", "axis": null}, "text": {"field": "t"}}}
 ]
}
]
}
